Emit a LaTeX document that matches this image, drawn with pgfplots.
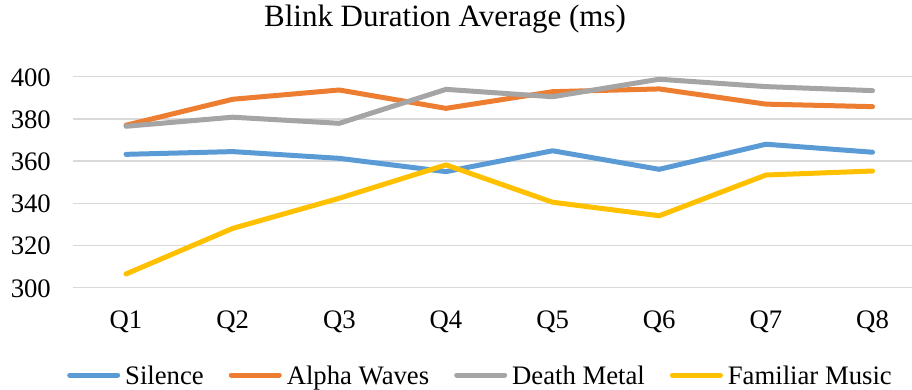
\documentclass[border=0pt]{standalone}
\usepackage{fontspec}
\setmainfont{Liberation Serif}
\usepackage{pgfplots}
\pgfplotsset{compat=1.18}
\definecolor{cS}{HTML}{5B9BD5}
\definecolor{cA}{HTML}{ED7D31}
\definecolor{cD}{HTML}{A5A5A5}
\definecolor{cF}{HTML}{FFC000}
\definecolor{gridc}{HTML}{D9D9D9}
\begin{document}
\begin{tikzpicture}
\begin{axis}[
  at={(72.7pt,102.3pt)}, anchor=south west,
  scale only axis, width=839.3pt, height=211pt,
  xmin=-0.5, xmax=7.37, ymin=300, ymax=400,
  clip=false,
  axis line style={draw=none},
  tick style={draw=none},
  ymajorgrids, grid style={color=gridc, line width=1.3pt},
  xtick={0,1,2,3,4,5,6,7},
  xticklabels={Q1,Q2,Q3,Q4,Q5,Q6,Q7,Q8},
  ytick={300,320,340,360,380,400},
  /pgf/number format/assume math mode=true,
  ticklabel style={font=\fontsize{26.7}{30}\selectfont},
  yticklabel style={anchor=base east, inner sep=0pt, xshift=-21.7pt, yshift=-9.5pt},
  xticklabel style={anchor=base, inner sep=0pt, yshift=-40.8pt},
  title={Blink Duration Average (ms)},
  title style={at={(0.4436,1.2071)}, anchor=base, inner sep=0pt, font=\fontsize{31}{36}\selectfont},
  legend columns=-1,
  legend style={draw=none, fill=none, inner sep=0pt, at={(-0.0366,-0.428)}, anchor=west,
    font=\fontsize{26.7}{30}\selectfont,
    cells={anchor=base},
    nodes={inner sep=0pt, text height=18pt, text depth=6pt}},
  legend image code/.code={
    \path[draw=none, fill=none] (-25pt,0pt) -- (58pt,0pt);
    \draw[#1, line cap=round] (2.5pt,9pt) -- (50.5pt,9pt);
  },
  every axis plot/.append style={line width=5pt, line cap=round, line join=round},
]
\addplot[color=cS] coordinates {(0,363.2) (1,364.5) (2,361.3) (3,355.0) (4,364.9) (5,356.1) (6,368.0) (7,364.2)};
\addlegendentry{Silence}
\addplot[color=cA] coordinates {(0,377.0) (1,389.3) (2,393.7) (3,385.0) (4,392.9) (5,394.2) (6,387.0) (7,385.8)};
\addlegendentry{Alpha Waves}
\addplot[color=cD] coordinates {(0,376.5) (1,380.8) (2,377.9) (3,394.0) (4,390.5) (5,398.8) (6,395.3) (7,393.4)};
\addlegendentry{Death Metal}
\addplot[color=cF] coordinates {(0,306.5) (1,328.1) (2,342.4) (3,358.2) (4,340.5) (5,334.1) (6,353.4) (7,355.3)};
\addlegendentry{Familiar Music}
\end{axis}
\pgfresetboundingbox
\useasboundingbox (0pt,0pt) rectangle (912pt,390pt);
\end{tikzpicture}
\end{document}
